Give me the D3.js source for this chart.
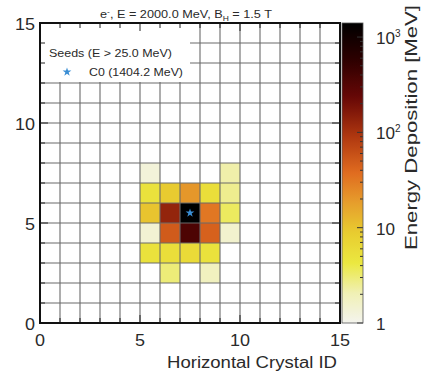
<!DOCTYPE html>
<html>
<head>
<meta charset="utf-8">
<script src="https://cdn.jsdelivr.net/npm/d3@7"></script>
<style>
  body { margin: 0; background: #fff; }
  text { font-family: "Liberation Sans", Arial, sans-serif; fill: #2a2a2a; }
</style>
</head>
<body>
<div id="chart"></div>
<script>
// crystal hits: column, row, energy deposit [MeV]
var cellCol = [5, 9, 5, 6, 7, 8, 9, 5, 6, 7, 8, 9, 5, 6, 7, 8, 9, 5, 6, 7, 8, 6, 8];
var cellRow = [7, 7, 6, 6, 6, 6, 6, 5, 5, 5, 5, 5, 4, 4, 4, 4, 4, 3, 3, 3, 3, 2, 2];
var cellEnergy = [1.3, 2.2, 5, 9, 20, 5.5, 2.6, 10, 130, 1404.2, 32, 3.5, 1.4, 50, 350, 45, 1.5, 5, 5.5, 6, 5, 3, 1.8];

var seedX = [7.5];
var seedY = [5.5];
var seedLabel = ["C0 (1404.2 MeV)"];

var xTicks = [0, 5, 10, 15];
var yTicks = [0, 5, 10, 15];
var cbTicks = [1, 10, 100, 1000];

var svgWidth = 421;
var svgHeight = 374;
var margin = { top: 23, left: 40 };
var size = 300;

var svg = d3.select("#chart").append("svg")
    .attr("width", svgWidth)
    .attr("height", svgHeight);

var x = d3.scaleLinear().domain([0, 15]).range([margin.left, margin.left + size]);
var y = d3.scaleLinear().domain([0, 15]).range([margin.top + size, margin.top]);

// colour map (white -> yellow -> orange -> dark red -> black) on log energy
var eMax = 1404.2;
var logScale = d3.scaleLog().domain([1, eMax]).range([0, 1]).clamp(true);
var cmap = d3.scaleLinear()
    .domain([0, 0.1, 0.2, 0.3, 0.4, 0.5, 0.62, 0.75, 0.88, 1])
    .range(["#f4f4ee", "#f0f0b4", "#ebe840", "#e8cc30", "#e69e2c", "#e06c20", "#b03810", "#680806", "#2c0000", "#000000"]);
var color = function (v) { return cmap(logScale(v)); };

// stretched text helper (the reference font runs wide)
function wide(sel, len) {
    return sel.attr("textLength", len).attr("lengthAdjust", "spacingAndGlyphs");
}

// cells
svg.append("g").selectAll("rect")
    .data(cellEnergy)
    .enter()
    .append("rect")
    .attr("x", (d, i) => x(cellCol[i]))
    .attr("y", (d, i) => y(cellRow[i] + 1))
    .attr("width", x(1) - x(0))
    .attr("height", y(0) - y(1))
    .attr("fill", d => color(d));

// grid
var grid = svg.append("g").attr("stroke", "#6a6a6a").attr("stroke-width", 1.1);
d3.range(1, 15).forEach(function (k) {
    grid.append("line").attr("x1", x(k)).attr("x2", x(k)).attr("y1", y(0)).attr("y2", y(15));
    grid.append("line").attr("x1", x(0)).attr("x2", x(15)).attr("y1", y(k)).attr("y2", y(k));
});

// legend box
svg.append("rect")
    .attr("x", x(0) + 1).attr("y", y(15) + 1)
    .attr("width", x(7.5) - x(0) - 1).attr("height", y(12.1) - y(15))
    .attr("fill", "#fff");

// inward ticks on all four sides
var ticks = svg.append("g").attr("stroke", "#222").attr("stroke-width", 1);
d3.range(0, 16).forEach(function (k) {
    var len = k % 5 === 0 ? 8 : 5;
    ticks.append("line").attr("x1", x(k)).attr("x2", x(k)).attr("y1", y(0)).attr("y2", y(0) - len);
    ticks.append("line").attr("x1", x(k)).attr("x2", x(k)).attr("y1", y(15)).attr("y2", y(15) + len);
    ticks.append("line").attr("x1", x(0)).attr("x2", x(0) + len).attr("y1", y(k)).attr("y2", y(k));
    ticks.append("line").attr("x1", x(15)).attr("x2", x(15) - len).attr("y1", y(k)).attr("y2", y(k));
});

// frame
svg.append("rect")
    .attr("x", x(0)).attr("y", y(15))
    .attr("width", size).attr("height", size)
    .attr("fill", "none").attr("stroke", "#111").attr("stroke-width", 2);

// tick labels
svg.append("g").selectAll("text").data(xTicks).enter().append("text")
    .attr("x", d => x(d)).attr("y", y(0) + 23)
    .attr("text-anchor", "middle").attr("font-size", 16)
    .each(function (d) { wide(d3.select(this), String(d).length * 10); })
    .text(d => d);
svg.append("g").selectAll("text").data(yTicks).enter().append("text")
    .attr("x", x(0) - 5).attr("y", d => y(d) + 7)
    .attr("text-anchor", "end").attr("font-size", 16)
    .each(function (d) { wide(d3.select(this), String(d).length * 10); })
    .text(d => d);

wide(svg.append("text"), 170)
    .attr("x", 167).attr("y", 368)
    .attr("font-size", 16)
    .text("Horizontal Crystal ID");

// title
var title = wide(svg.append("text"), 172)
    .attr("x", 100).attr("y", 18)
    .attr("font-size", 10.5);
title.append("tspan").text("e");
title.append("tspan").attr("dy", -4).attr("font-size", 7).text("-");
title.append("tspan").attr("dy", 4).text(", E = 2000.0 MeV, B");
title.append("tspan").attr("dy", 3).attr("font-size", 7).text("H");
title.append("tspan").attr("dy", -3).text(" = 1.5 T");

// legend
wide(svg.append("text"), 123)
    .attr("x", 49).attr("y", 57).attr("font-size", 10.5).attr("fill", "#3a3a3a")
    .text("Seeds (E > 25.0 MeV)");
var star = d3.symbol().type(d3.symbolStar).size(24);
svg.append("path")
    .attr("d", star())
    .attr("transform", "translate(67,72)")
    .attr("fill", "#3a8ed4");
wide(svg.append("text"), 94)
    .attr("x", 89).attr("y", 76).attr("font-size", 10.5).attr("fill", "#3a3a3a")
    .text(seedLabel[0]);

// seed markers
svg.append("g").selectAll("path").data(seedX).enter().append("path")
    .attr("d", star())
    .attr("transform", (d, i) => "translate(" + x(d) + "," + y(seedY[i]) + ")")
    .attr("fill", "#3a8ed4");

// colour bar
var cbX = 342, cbW = 21;
var cbY = d3.scaleLog().domain([1, eMax]).range([y(0), y(15)]);
var grad = svg.append("defs").append("linearGradient")
    .attr("id", "cbgrad").attr("x1", 0).attr("x2", 0).attr("y1", 1).attr("y2", 0);
d3.range(0, 1.0001, 0.02).forEach(function (t) {
    grad.append("stop").attr("offset", t).attr("stop-color", cmap(t));
});
svg.append("rect")
    .attr("x", cbX).attr("y", y(15)).attr("width", cbW).attr("height", size)
    .attr("fill", "url(#cbgrad)");

var cbTickG = svg.append("g").attr("stroke", "#333").attr("stroke-width", 1);
[1, 10, 100, 1000].forEach(function (dec) {
    d3.range(1, 10).forEach(function (m) {
        var v = dec * m;
        if (v > eMax) return;
        var len = m === 1 ? 6 : 3;
        cbTickG.append("line")
            .attr("x1", cbX + cbW).attr("x2", cbX + cbW - len)
            .attr("y1", cbY(v)).attr("y2", cbY(v));
    });
});
svg.append("rect")
    .attr("x", cbX).attr("y", y(15)).attr("width", cbW).attr("height", size)
    .attr("fill", "none").attr("stroke", "#555").attr("stroke-width", 0.8);

var cbLabels = svg.append("g").selectAll("text").data(cbTicks).enter().append("text")
    .attr("x", 376).attr("y", d => cbY(d) + 7)
    .attr("font-size", 16);
cbLabels.each(function (d) {
    var t = d3.select(this);
    if (d < 100) {
        wide(t, String(d).length * 9.5).text(d);
    } else {
        wide(t.append("tspan"), 19).text("10");
        t.append("tspan").attr("dy", -7).attr("font-size", 10).text(Math.round(Math.log10(d)));
    }
});

wide(svg.append("text"), 245)
    .attr("transform", "translate(417,250) rotate(-90)")
    .attr("font-size", 16)
    .text("Energy Deposition [MeV]");
</script>
</body>
</html>
